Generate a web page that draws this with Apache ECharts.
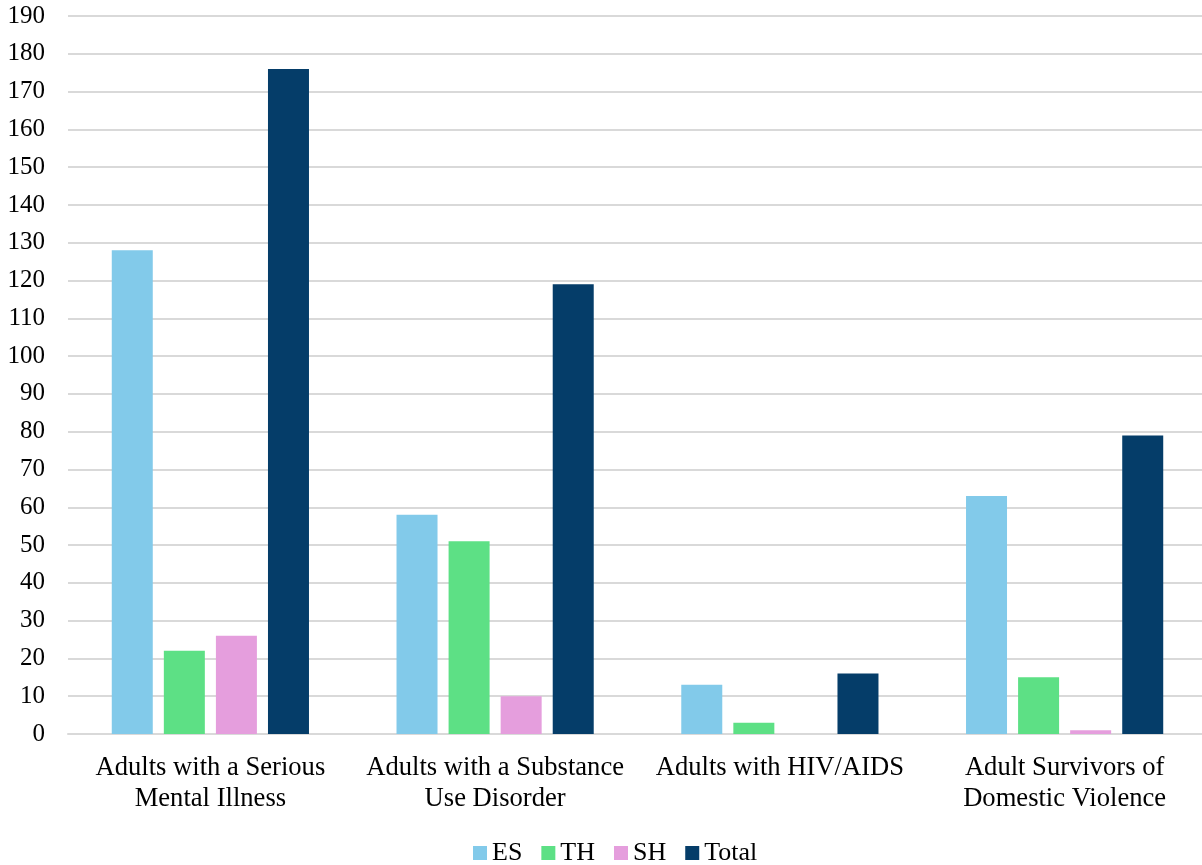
<!DOCTYPE html>
<html><head><meta charset="utf-8">
<script src="https://cdn.jsdelivr.net/npm/echarts@6/dist/echarts.min.js"></script>
<style>html,body{margin:0;padding:0;background:#fff;overflow:hidden}#c{width:1212px;height:865px}</style>
</head><body><div id="c"></div>
<script>
const categories = ["Adults with a Serious\nMental Illness", "Adults with a Substance\nUse Disorder", "Adults with HIV/AIDS", "Adult Survivors of\nDomestic Violence"];
const seriesNames = ["ES", "TH", "SH", "Total"];
const esValues = [128, 58, 13, 63];
const thValues = [22, 51, 3, 15];
const shValues = [26, 10, 0, 1];
const totalValues = [176, 119, 16, 79];
const yTicks = {min: 0, max: 190, interval: 10};
const colors = ["#82CAEA", "#5DE085", "#E59EDD", "#053D69"];

const font = "'Liberation Serif','Times New Roman',serif";
const chart = echarts.init(document.getElementById('c'), null, {renderer: 'canvas'});
const data = [esValues, thValues, shValues, totalValues];
chart.setOption({
  animation: false,
  grid: {left: 68, right: 5, top: 16, height: 718, containLabel: false},
  legend: {
    top: 835, left: 468, itemWidth: 14, itemHeight: 14, itemGap: 19,
    icon: 'rect',
    textStyle: {fontFamily: font, fontSize: 26, color: '#000', lineHeight: 26},
    data: seriesNames
  },
  xAxis: {
    type: 'category', data: categories,
    axisLine: {show: true, lineStyle: {color: '#D9D9D9', width: 2}},
    axisTick: {show: false},
    axisLabel: {fontFamily: font, fontSize: 26.6, color: '#000', margin: 19, lineHeight: 31, interval: 0}
  },
  yAxis: {
    type: 'value', min: yTicks.min, max: yTicks.max, interval: yTicks.interval,
    axisLine: {show: false}, axisTick: {show: false},
    splitLine: {lineStyle: {color: '#D9D9D9', width: 2}},
    axisLabel: {fontFamily: font, fontSize: 25, color: '#000', margin: 23}
  },
  series: seriesNames.map((n, i) => ({
    name: n, type: 'bar', data: data[i], barWidth: 41, barGap: '27%',
    itemStyle: {color: colors[i]}
  }))
});
</script></body></html>
